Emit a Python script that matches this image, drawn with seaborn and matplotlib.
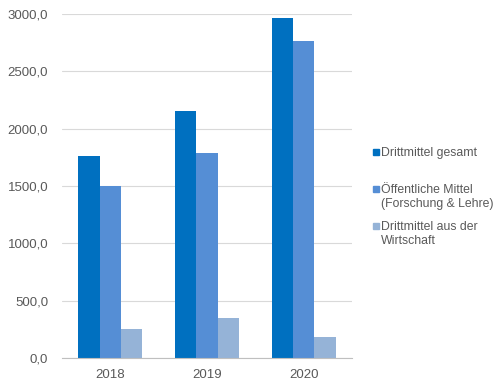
import matplotlib
matplotlib.use("Agg")
import matplotlib.pyplot as plt
import seaborn as sns
import pandas as pd
from matplotlib.patches import Rectangle
from matplotlib.ticker import FuncFormatter, FixedLocator

years = ["2018", "2019", "2020"]
series = ["Drittmittel gesamt", "Öffentliche Mittel\n(Forschung & Lehre)", "Drittmittel aus der\nWirtschaft"]
gesamt = [1765, 2150, 2962]
oeffentlich = [1497, 1792, 2762]
wirtschaft = [255, 345, 185]
colors = ["#0070C0", "#558ED5", "#95B3D7"]

df = pd.DataFrame({
    "year": years * 3,
    "series": [series[0]] * 3 + [series[1]] * 3 + [series[2]] * 3,
    "value": gesamt + oeffentlich + wirtschaft,
})

sns.set_theme(style="white")
plt.rcParams["font.family"] = ["Liberation Sans", "DejaVu Sans"]

fig = plt.figure(figsize=(5.02, 3.82), dpi=100)
ax = fig.add_axes([62 / 502, 1 - 358 / 382, 290 / 502, 344 / 382])

sns.barplot(data=df, x="year", y="value", hue="series", palette=colors,
            width=0.665, ax=ax, legend=False, saturation=1, linewidth=0)

ax.set_ylim(0, 3000)
ax.set_xlim(-0.5, 2.5)
ax.set_yticks([0, 500, 1000, 1500, 2000, 2500, 3000])
ax.yaxis.set_major_formatter(FuncFormatter(lambda v, p: f"{v:.1f}".replace(".", ",")))
ax.yaxis.grid(True, color="#D9D9D9", linewidth=0.8)
ax.set_axisbelow(True)
for s in ["top", "right", "left"]:
    ax.spines[s].set_visible(False)
ax.spines["bottom"].set_color("#BFBFBF")
ax.spines["bottom"].set_linewidth(0.8)
ax.set_xlabel("")
ax.set_ylabel("")
ax.tick_params(axis="y", length=0, labelsize=9.5, colors="#595959", pad=10)
ax.tick_params(axis="x", length=0, labelsize=9.5, colors="#595959", pad=8)
ax.xaxis.set_minor_locator(FixedLocator([-0.5, 0.5, 1.5, 2.5]))
ax.tick_params(axis="x", which="minor", length=4, color="#BFBFBF", width=0.8, direction="out")

# legend
leg_y = [153, 190, 227]
for i, (lab, c) in enumerate(zip(series, colors)):
    y = leg_y[i]
    fig.patches.append(Rectangle((373 / 502, 1 - (y + 2) / 382), 6 / 502, 6 / 382,
                                 transform=fig.transFigure, color=c))
    fig.text(381 / 502, 1 - (y - 6) / 382, lab, ha="left", va="top",
             fontsize=8.8, color="#595959", linespacing=1.2)

fig.savefig("out.png", dpi=100)
